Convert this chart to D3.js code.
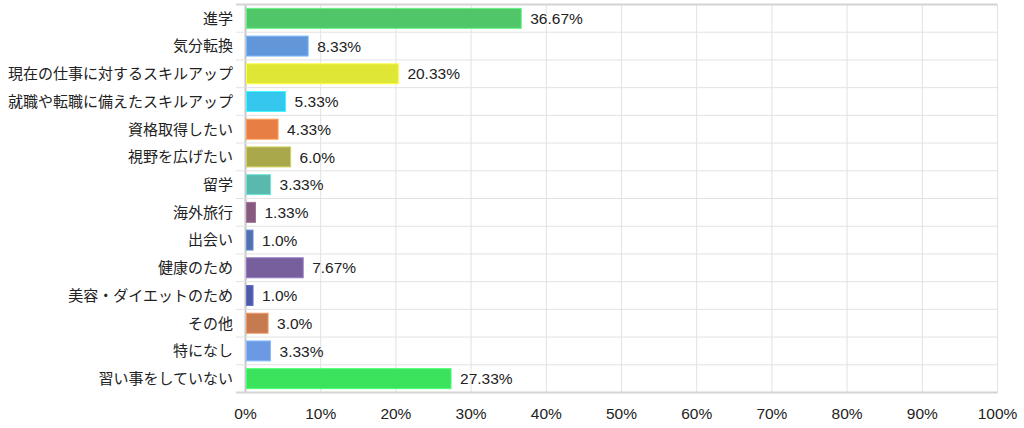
<!DOCTYPE html>
<html>
<head>
<meta charset="utf-8">
<script src="https://cdn.jsdelivr.net/npm/d3@7"></script>
<style>
  body { margin: 0; background: #fff; }
  text { font-family: Arial, "Liberation Sans", "Noto Sans CJK JP", sans-serif; }
</style>
</head>
<body>
<script>
var categories = ['進学', '気分転換', '現在の仕事に対するスキルアップ', '就職や転職に備えたスキルアップ',
  '資格取得したい', '視野を広げたい', '留学', '海外旅行', '出会い', '健康のため',
  '美容・ダイエットのため', 'その他', '特になし', '習い事をしていない'];
var values = [36.67, 8.33, 20.33, 5.33, 4.33, 6.0, 3.33, 1.33, 1.0, 7.67, 1.0, 3.0, 3.33, 27.33];
var colors = ['#50c669', '#6197d9', '#e0e635', '#36c7ee', '#e77f44', '#a9a94b', '#5ab9ae',
  '#855b7e', '#5270ae', '#775f9e', '#4f59a6', '#c57a4f', '#6c99e3', '#3be35c'];
var ticks = [0, 10, 20, 30, 40, 50, 60, 70, 80, 90, 100];

var width = 1024;
var height = 428;

var svg = d3.select('body')
  .append('svg')
  .attr('width', width)
  .attr('height', height);

var x = d3.scaleLinear()
  .domain([0, 100])
  .range([245.5, 997.5]);

var y = d3.scaleBand()
  .domain(categories)
  .range([4.5, 392.5])
  .paddingInner(0.28)
  .paddingOuter(0.14);

var step = y.step();
var plotTop = y.range()[0];
var n = categories.length;

// vertical grid
svg.append('g')
  .selectAll('line')
  .data(ticks)
  .enter()
  .append('line')
  .attr('x1', d => x(d))
  .attr('x2', d => x(d))
  .attr('y1', plotTop)
  .attr('y2', plotTop + step * n)
  .attr('stroke', d => d == 0 ? '#c8c8c8' : '#e2e2e2')
  .attr('stroke-width', d => d == 0 ? 2 : 1);

// row separators (start a bit left of the axis, like ticks)
svg.append('g')
  .selectAll('line')
  .data(d3.range(n + 1))
  .enter()
  .append('line')
  .attr('x1', 236)
  .attr('x2', x(100))
  .attr('y1', i => plotTop + i * step)
  .attr('y2', i => plotTop + i * step)
  .attr('stroke', i => (i == 0 || i == n) ? '#d4d4d4' : '#e2e2e2')
  .attr('stroke-width', i => (i == 0 || i == n) ? 2 : 1);

var rows = categories.map((c, i) => ({ name: c, value: values[i], color: colors[i] }));

svg.append('g')
  .selectAll('rect')
  .data(rows)
  .enter()
  .append('rect')
  .attr('x', x(0) + 1)
  .attr('y', d => y(d.name))
  .attr('width', d => x(d.value) - x(0) - 1)
  .attr('height', y.bandwidth())
  .attr('fill', d => d.color)
  .attr('stroke', d => d3.color(d.color).brighter(0.6))
  .attr('stroke-width', 1);

// value labels
svg.append('g')
  .selectAll('text')
  .data(rows)
  .enter()
  .append('text')
  .attr('x', d => x(d.value) + 9)
  .attr('y', d => y(d.name) + y.bandwidth() / 2)
  .attr('dy', '0.36em')
  .attr('font-size', 15.5)
  .attr('fill', '#222')
  .text(d => (Number.isInteger(d.value) ? d.value.toFixed(1) : d.value) + '%');

// category labels
svg.append('g')
  .selectAll('text')
  .data(rows)
  .enter()
  .append('text')
  .attr('x', 233)
  .attr('y', d => y(d.name) + y.bandwidth() / 2)
  .attr('dy', '0.36em')
  .attr('text-anchor', 'end')
  .attr('font-size', 15)
  .attr('fill', '#222')
  .text(d => d.name);

// x axis labels
svg.append('g')
  .selectAll('text')
  .data(ticks)
  .enter()
  .append('text')
  .attr('x', d => x(d))
  .attr('y', 419)
  .attr('text-anchor', 'middle')
  .attr('font-size', 15.5)
  .attr('fill', '#222')
  .text(d => d + '%');
</script>
</body>
</html>
